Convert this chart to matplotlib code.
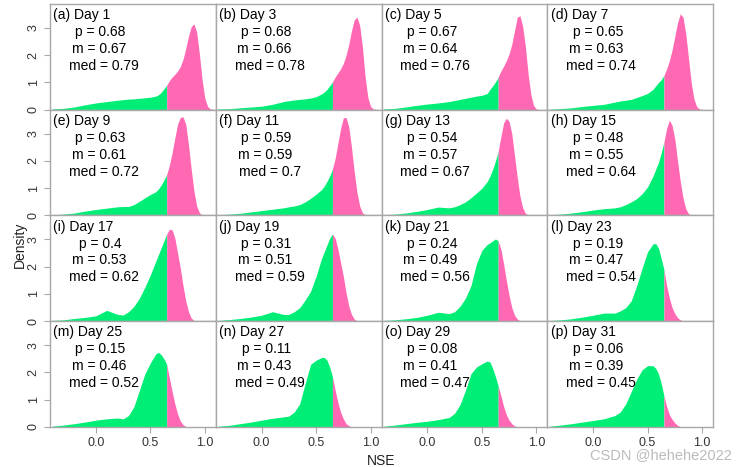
import numpy as np
import matplotlib.pyplot as plt

plt.rcParams['font.family'] = ['Liberation Sans', 'DejaVu Sans']

nse = [-0.4, -0.3, -0.2, -0.1, 0.0, 0.1, 0.2,
       0.25, 0.3, 0.35, 0.4, 0.45, 0.5, 0.55,
       0.575, 0.6, 0.625, 0.65, 0.675, 0.7, 0.725, 0.75, 0.775, 0.8, 0.825,
       0.85, 0.875, 0.9, 0.925, 0.95, 0.975, 1.0, 1.025, 1.05, 1.1]

dens_a = [0.03, 0.05, 0.10, 0.18, 0.25, 0.30, 0.35, 0.37, 0.39, 0.40, 0.42, 0.44, 0.46, 0.50,
          0.55, 0.64, 0.77, 0.90, 1.07, 1.20, 1.30, 1.42, 1.58, 1.85, 2.25,
          2.70, 3.05, 3.15, 2.85, 2.05, 1.10, 0.42, 0.12, 0.03, 0.0]
dens_b = [0.03, 0.04, 0.07, 0.10, 0.13, 0.20, 0.30, 0.33, 0.36, 0.38, 0.40, 0.43, 0.48, 0.58,
          0.65, 0.75, 0.88, 1.02, 1.20, 1.35, 1.50, 1.70, 2.00, 2.40, 2.90,
          3.30, 3.40, 3.10, 2.30, 1.20, 0.45, 0.12, 0.03, 0.01, 0.0]
dens_c = [0.03, 0.05, 0.10, 0.16, 0.21, 0.25, 0.30, 0.34, 0.38, 0.42, 0.46, 0.50, 0.53, 0.60,
          0.75, 0.88, 1.02, 1.20, 1.42, 1.60, 1.80, 2.05, 2.40, 2.90, 3.40,
          3.45, 3.05, 2.30, 1.30, 0.55, 0.15, 0.03, 0.01, 0.0, 0.0]
dens_d = [0.02, 0.04, 0.07, 0.12, 0.16, 0.20, 0.28, 0.32, 0.35, 0.38, 0.45, 0.52, 0.60, 0.75,
          0.88, 1.00, 1.10, 1.26, 1.50, 1.80, 2.20, 2.70, 3.20, 3.52, 3.40,
          2.80, 1.90, 1.00, 0.40, 0.12, 0.03, 0.01, 0.0, 0.0, 0.0]
dens_e = [0.03, 0.05, 0.09, 0.16, 0.22, 0.27, 0.32, 0.33, 0.33, 0.40, 0.52, 0.65, 0.77, 0.87,
          0.98, 1.12, 1.30, 1.50, 1.85, 2.30, 2.85, 3.35, 3.60, 3.62, 3.35,
          2.60, 1.70, 0.90, 0.35, 0.10, 0.02, 0.0, 0.0, 0.0, 0.0]
dens_f = [0.03, 0.05, 0.08, 0.13, 0.18, 0.23, 0.28, 0.32, 0.35, 0.40, 0.50, 0.63, 0.78, 0.95,
          1.08, 1.25, 1.45, 1.70, 2.10, 2.65, 3.20, 3.58, 3.60, 3.25, 2.50,
          1.60, 0.85, 0.35, 0.10, 0.03, 0.0, 0.0, 0.0, 0.0, 0.0]
dens_g = [0.03, 0.05, 0.09, 0.15, 0.22, 0.31, 0.28, 0.32, 0.40, 0.50, 0.65, 0.82, 1.00, 1.25,
          1.45, 1.70, 2.00, 2.35, 2.90, 3.40, 3.57, 3.45, 3.00, 2.20, 1.40,
          0.70, 0.28, 0.08, 0.02, 0.0, 0.0, 0.0, 0.0, 0.0, 0.0]
dens_h = [0.03, 0.05, 0.09, 0.14, 0.20, 0.25, 0.28, 0.32, 0.40, 0.50, 0.62, 0.80, 1.05, 1.45,
          1.70, 1.95, 2.30, 2.70, 3.20, 3.50, 3.30, 2.80, 2.00, 1.25, 0.65,
          0.25, 0.07, 0.02, 0.0, 0.0, 0.0, 0.0, 0.0, 0.0, 0.0]
dens_i = [0.03, 0.05, 0.10, 0.14, 0.20, 0.40, 0.25, 0.23, 0.35, 0.55, 0.85, 1.25, 1.70, 2.20,
          2.45, 2.70, 2.95, 3.20, 3.38, 3.35, 3.05, 2.50, 1.95, 1.30, 0.75,
          0.35, 0.12, 0.03, 0.0, 0.0, 0.0, 0.0, 0.0, 0.0, 0.0]
dens_j = [0.03, 0.06, 0.10, 0.15, 0.22, 0.35, 0.25, 0.25, 0.35, 0.50, 0.78, 1.10, 1.65, 2.30,
          2.55, 2.80, 3.05, 3.20, 3.05, 2.65, 2.15, 1.65, 1.05, 0.55, 0.25,
          0.08, 0.02, 0.0, 0.0, 0.0, 0.0, 0.0, 0.0, 0.0, 0.0]
dens_k = [0.03, 0.05, 0.09, 0.14, 0.22, 0.33, 0.28, 0.35, 0.55, 0.85, 1.30, 2.10, 2.60, 2.82,
          2.88, 2.95, 3.02, 2.95, 2.65, 2.10, 1.50, 0.95, 0.50, 0.22, 0.08,
          0.02, 0.0, 0.0, 0.0, 0.0, 0.0, 0.0, 0.0, 0.0, 0.0]
dens_l = [0.03, 0.05, 0.09, 0.15, 0.22, 0.30, 0.30, 0.38, 0.50, 0.75, 1.30, 1.95, 2.55, 2.84,
          2.85, 2.68, 2.30, 1.90, 1.30, 0.85, 0.50, 0.28, 0.13, 0.05, 0.02,
          0.0, 0.0, 0.0, 0.0, 0.0, 0.0, 0.0, 0.0, 0.0, 0.0]
dens_m = [0.03, 0.07, 0.12, 0.18, 0.25, 0.30, 0.33, 0.30, 0.42, 0.75, 1.35, 1.95, 2.35, 2.68,
          2.74, 2.65, 2.50, 2.30, 1.80, 1.30, 0.85, 0.48, 0.22, 0.08, 0.02,
          0.0, 0.0, 0.0, 0.0, 0.0, 0.0, 0.0, 0.0, 0.0, 0.0]
dens_n = [0.03, 0.06, 0.12, 0.18, 0.25, 0.32, 0.37, 0.40, 0.55, 0.85, 1.60, 2.30, 2.45, 2.55,
          2.55, 2.45, 2.20, 1.85, 1.35, 0.90, 0.55, 0.30, 0.12, 0.05, 0.01,
          0.0, 0.0, 0.0, 0.0, 0.0, 0.0, 0.0, 0.0, 0.0, 0.0]
dens_o = [0.03, 0.07, 0.12, 0.17, 0.21, 0.27, 0.35, 0.50, 0.82, 1.35, 1.95, 2.20, 2.32, 2.42,
          2.38, 2.15, 1.85, 1.50, 1.15, 0.75, 0.45, 0.25, 0.12, 0.04, 0.01,
          0.0, 0.0, 0.0, 0.0, 0.0, 0.0, 0.0, 0.0, 0.0, 0.0]
dens_p = [0.03, 0.07, 0.12, 0.18, 0.24, 0.30, 0.42, 0.55, 0.85, 1.30, 1.75, 2.10, 2.25, 2.25,
          2.15, 1.95, 1.60, 1.15, 0.75, 0.45, 0.28, 0.15, 0.06, 0.02, 0.0,
          0.0, 0.0, 0.0, 0.0, 0.0, 0.0, 0.0, 0.0, 0.0, 0.0]

titles = ['(a) Day 1', '(b) Day 3', '(c) Day 5', '(d) Day 7',
          '(e) Day 9', '(f) Day 11', '(g) Day 13', '(h) Day 15',
          '(i) Day 17', '(j) Day 19', '(k) Day 21', '(l) Day 23',
          '(m) Day 25', '(n) Day 27', '(o) Day 29', '(p) Day 31']
p_vals = ['0.68', '0.68', '0.67', '0.65', '0.63', '0.59', '0.54', '0.48',
          '0.4', '0.31', '0.24', '0.19', '0.15', '0.11', '0.08', '0.06']
m_vals = ['0.67', '0.66', '0.64', '0.63', '0.61', '0.59', '0.57', '0.55',
          '0.53', '0.51', '0.49', '0.47', '0.46', '0.43', '0.41', '0.39']
med_vals = ['0.79', '0.78', '0.76', '0.74', '0.72', '0.7', '0.67', '0.64',
            '0.62', '0.59', '0.56', '0.54', '0.52', '0.49', '0.47', '0.45']

threshold = 0.65

all_dens = [dens_a, dens_b, dens_c, dens_d, dens_e, dens_f, dens_g, dens_h,
            dens_i, dens_j, dens_k, dens_l, dens_m, dens_n, dens_o, dens_p]

green = '#00EE76'
pink = '#FF69B4'
frame = '#A8A8A8'

fig, axes = plt.subplots(4, 4, figsize=(7.48, 4.67), dpi=100, sharex=True, sharey=True,
                         gridspec_kw={'hspace': 0, 'wspace': 0})
fig.subplots_adjust(left=50/748, right=713/748, top=1-4/467, bottom=1-427/467)

x = np.array(nse)
for k, ax in enumerate(axes.flat):
    y = np.array(all_dens[k])
    ax.fill_between(x, 0, y, where=x <= threshold, color=green, lw=0)
    ax.fill_between(x, 0, y, where=x >= threshold, color=pink, lw=0)

    ax.text(0.02, 0.895, titles[k], transform=ax.transAxes, fontsize=10, va='center', ha='left')
    ax.text(0.305, 0.735, 'p = ' + p_vals[k], transform=ax.transAxes, fontsize=10,
            va='center', ha='center')
    ax.text(0.295, 0.575, 'm = ' + m_vals[k], transform=ax.transAxes, fontsize=10,
            va='center', ha='center')
    ax.text(0.325, 0.415, 'med = ' + med_vals[k], transform=ax.transAxes, fontsize=10,
            va='center', ha='center')

    for s in ax.spines.values():
        s.set_color(frame)
        s.set_linewidth(1.0)
    ax.tick_params(colors=frame, labelcolor='#333333', labelsize=9, length=4, width=0.8)
    ax.tick_params(axis='y', labelrotation=90)

    col = k % 4
    row = k // 4
    if col != 0:
        ax.tick_params(axis='y', left=False)
    if row != 3:
        ax.tick_params(axis='x', bottom=False)

ax0 = axes[0, 0]
ax0.set_xlim(-0.42, 1.1)
ax0.set_ylim(0, 3.88)
ax0.set_xticks([0.0, 0.5, 1.0])
ax0.set_yticks([0, 1, 2, 3])
for ax in axes[3, :]:
    ax.set_xticklabels(['0.0', '0.5', '1.0'])
for ax in axes[:, 0]:
    for lab in ax.get_yticklabels():
        lab.set_va('center')

fig.text(20/748, 1-245/467, 'Density', rotation=90, fontsize=10, ha='center', va='center', color='#222222')
fig.text(381/748, 1-461/467, 'NSE', fontsize=10, ha='center', va='center', color='#222222')
fig.text(732/748, 1-455/467, 'CSDN @hehehe2022', fontsize=10.5, ha='right', va='center', color='#BBBBBB')

fig.savefig('out.png', dpi=100)
